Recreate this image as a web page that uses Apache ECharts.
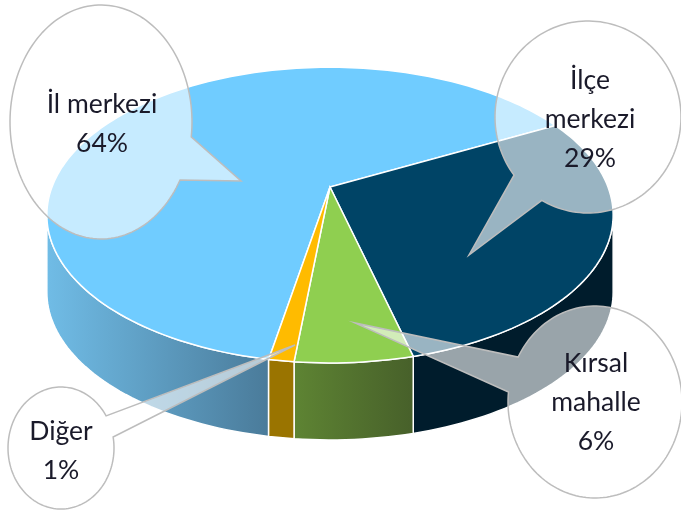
<!DOCTYPE html>
<html><head><meta charset="utf-8">
<style>html,body{margin:0;padding:0;background:#fff}#c{width:681px;height:514px}</style>
<script src="https://cdn.jsdelivr.net/npm/echarts@6/dist/echarts.min.js"></script>
</head><body><div id="c"></div>
<script>
const categories = ['İl merkezi', 'İlçe merkezi', 'Kırsal mahalle', 'Diğer'];
const values = [64.35, 28.85, 5.6, 1.2];
const labelLines = [['İl merkezi'], ['İlçe', 'merkezi'], ['Kırsal', 'mahalle'], ['Diğer']];
const topColors = ['#70CCFF', '#004466', '#8FCF50', '#FFBB00'];
const wallColors = [['#70BCE6', '#4A7B9A'], ['#001C2C', '#001C2C'], ['#5E8433', '#47602A'], ['#9A7400', '#9A7400']];
const startDeg = -259.66;
// projection of the disc (perspective view)
const view = { cx: 330, cy: 187, a: 278, b: 142.5, k: 0.19, depth: 77 };
// callout balloons
const balloons = [
  { cx: 101, cy: 122, rx: 91, ry: 117, from: 29.7, to: 367.3, tip: [241, 181], tx: 102, ty: 124 },
  { cx: 588, cy: 117, rx: 93, ry: 96, from: 142.7, to: 479.8, tip: [469, 255], tx: 590, ty: 119 },
  { cx: 595, cy: 402, rx: 87, ry: 96, from: 207.9, to: 546, tip: [355, 323], tx: 596, ty: 402 },
  { cx: 61, cy: 448, rx: 53, ry: 61, from: -10.4, to: 328.3, tip: [295, 345], tx: 61, ty: 451 }
];
const total = values.reduce((s, v) => s + v, 0);
function proj(deg) {
  const t = deg * Math.PI / 180, w = 1 - view.k * Math.sin(t);
  return [view.cx + view.a * Math.cos(t) / w, view.cy + view.b * Math.sin(t) / w];
}
function arcPts(a0, a1) {
  const n = Math.max(2, Math.ceil(Math.abs(a1 - a0) / 1.5)), out = [];
  for (let i = 0; i <= n; i++) out.push(proj(a0 + (a1 - a0) * i / n));
  return out;
}
const tExt = Math.asin(view.k) * 180 / Math.PI;
function wedgeRange(i) {
  let before = 0;
  for (let j = 0; j < i; j++) before += values[j];
  const a0 = startDeg + before / total * 360;
  return [a0, a0 + values[i] / total * 360];
}
function renderSlice(params, api) {
  const i = params.dataIndex;
  const [a0, a1] = wedgeRange(i);
  const kids = [];
  // visible wall: the front part of the rim, tExt .. 180-tExt (mod 360)
  for (const shift of [-360, 0, 360]) {
    const lo = Math.max(a0 + shift, tExt), hi = Math.min(a1 + shift, 180 - tExt);
    if (hi > lo) {
      const rim = arcPts(lo, hi);
      const low = rim.slice().reverse().map(p => [p[0], p[1] + view.depth]);
      const xs = rim.map(p => p[0]);
      const g = new echarts.graphic.LinearGradient(Math.min(...xs), 0, Math.max(...xs), 0,
        [{ offset: 0, color: wallColors[i][0] }, { offset: 1, color: wallColors[i][1] }], true);
      kids.push({ type: 'polygon', shape: { points: rim.concat(low) },
        style: { fill: g, stroke: '#fff', lineWidth: 1.5 } });
    }
  }
  kids.push({ type: 'polygon', shape: { points: [[view.cx, view.cy]].concat(arcPts(a0, a1)) },
    style: { fill: topColors[i], stroke: '#fff', lineWidth: 1.5 } });
  return { type: 'group', children: kids };
}
function renderBalloon(params, api) {
  const i = params.dataIndex, b = balloons[i], pts = [];
  for (let d = b.from; d <= b.to + 0.01; d += (b.to - b.from) / 150) {
    const r = d * Math.PI / 180;
    pts.push([b.cx + b.rx * Math.cos(r), b.cy + b.ry * Math.sin(r)]);
  }
  pts.push(b.tip);
  const pct = Math.round(api.value(0) / total * 100) + '%';
  return { type: 'group', children: [
    { type: 'polygon', shape: { points: pts },
      style: { fill: 'rgba(255,255,255,0.6)', stroke: '#BDBDBD', lineWidth: 1.5 } },
    { type: 'text', x: b.tx, y: b.ty, style: { text: labelLines[i].concat(pct).join('\n'),
      align: 'center', verticalAlign: 'middle', fontFamily: 'Lato', fontSize: 26.5, lineHeight: 39, fill: '#1A1A2A' } }
  ] };
}
const seriesData = categories.map((name, i) => ({ name, value: [values[i]] }));
const chart = echarts.init(document.getElementById('c'), null, { renderer: 'canvas' });
chart.setOption({
  animation: false,
  backgroundColor: '#fff',
  series: [
    { type: 'custom', coordinateSystem: 'none', z: 2, silent: true, renderItem: renderSlice, data: seriesData },
    { type: 'custom', coordinateSystem: 'none', z: 3, silent: true, renderItem: renderBalloon, data: seriesData }
  ]
});
</script></body></html>
